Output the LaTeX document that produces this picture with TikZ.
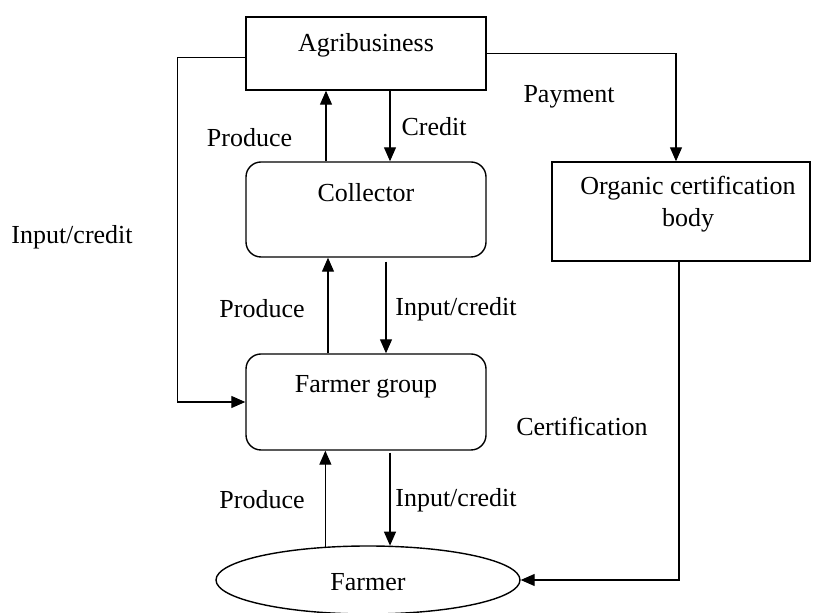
\documentclass[tikz,border=0pt]{standalone}
\usepackage{fontspec}
\setmainfont{Liberation Serif}
\newfontfamily\diagfont{Liberation Serif}
\usepackage{tikz}
\usetikzlibrary{shapes.geometric, positioning, arrows.meta}

\begin{document}
\begin{tikzpicture}[x=0.5pt, y=-0.5pt, >={Triangle[length=7pt, width=6pt]},
    every node/.style={font=\diagfont\fontsize{13}{16}\selectfont, inner sep=0pt},
    sqbox/.style={draw, line width=0.7pt, minimum width=120pt},
    rbox/.style={draw, line width=0.7pt, rounded corners=7.5pt, minimum width=120pt, minimum height=48pt},
    flow/.style={->, line width=0.6pt}]
          \useasboundingbox (0,0) rectangle (814,613);

          \node[sqbox, minimum height=36.5pt] (agri) at (366,53.5) {};
          \node (agritxt) at (366,45) {Agribusiness};
          \node[rbox, minimum height=47.5pt] (coll) at (366,209.5) {};
          \node (colltxt) at (366,193) {Collector};
          \node[rbox] (group) at (366,402) {};
          \node (grouptxt) at (366,387) {Farmer group};
          \node[sqbox, minimum width=129pt, minimum height=49.5pt] (cert) at (681,211.5) {};
          \node[align=center] (certtxt) at (688,204) {Organic certification\\body};
          \node[ellipse, draw, line width=0.7pt, minimum width=152pt, minimum height=34pt] (farmer) at (368,580) {};
          \node (farmertxt) at (368,582) {Farmer};

          % collector <-> agribusiness
          \draw[flow] ([xshift=-20pt]coll.north) -- ([xshift=-20pt]coll.north |- agri.south);
          \draw[flow] ([xshift=12pt]agri.south) -- ([xshift=12pt]agri.south |- coll.north);
          \node (prod1) at (249.5,138) {Produce};
          \node (cred1) at (434,127) {Credit};

          % farmer group <-> collector
          \draw[flow] ([xshift=-19pt]group.north) -- ([xshift=-19pt]group.north |- coll.south);
          \draw[flow] ([xshift=10pt,yshift=-2pt]coll.south) -- ([xshift=10pt]coll.south |- group.north);
          \node (prod2) at (262,309) {Produce};
          \node (cred2) at (456,309) {Input/credit};

          % farmer <-> farmer group
          \draw[flow] (farmer.142) -- (farmer.142 |- group.south);
          \draw[flow] ([xshift=12pt,yshift=-1pt]group.south) -- ([xshift=12pt]group.south |- farmer.57);
          \node (prod3) at (262,500) {Produce};
          \node (cred3) at (456,500) {Input/credit};

          % outer loops
          \draw[flow] ([yshift=-2pt]agri.west) -- ++(-34pt,0) |- (group.west);
          \node (cred0) at (72,237) {Input/credit};
          \draw[flow] (agri.east) -| ([xshift=-2.5pt]cert.north);
          \node (pay) at (569,97) {Payment};
          \draw[flow] ([xshift=-1pt]cert.south) |- (farmer.east);
          \node (certif) at (582,426) {Certification};
        \end{tikzpicture}
\end{document}
